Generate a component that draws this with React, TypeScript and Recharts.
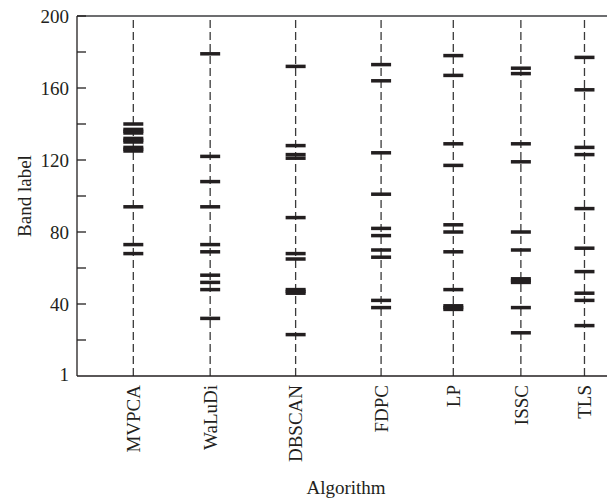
import {
  ReferenceLine,
  Scatter,
  ScatterChart,
  XAxis,
  YAxis,
} from "recharts";

const algorithms = ["MVPCA", "WaLuDi", "DBSCAN", "FDPC", "LP", "ISSC", "TLS"];
// where each algorithm sits along the x axis (0–8 scale)
const algoPos = [0.85, 2.01, 3.3, 4.59, 5.68, 6.7, 7.66];

const mvpcaBands = [140, 137, 136, 135, 132, 131, 130, 127, 126, 125, 94, 73, 68];
const waludiBands = [179, 122, 108, 94, 73, 69, 56, 52, 48, 32];
const dbscanBands = [172, 128, 123, 121, 88, 68, 65, 48, 47, 46, 23];
const fdpcBands = [173, 164, 124, 101, 82, 78, 70, 66, 42, 38];
const lpBands = [178, 167, 129, 117, 84, 80, 69, 48, 39, 38, 37];
const isscBands = [171, 168, 129, 119, 80, 70, 54, 53, 52, 38, 24];
const tlsBands = [177, 159, 127, 123, 93, 71, 58, 46, 42, 28];

const yTicks = [1, 20, 40, 60, 80, 100, 120, 140, 160, 180, 200];
const yLabelled = [1, 40, 80, 120, 160, 200];

const allBands = [mvpcaBands, waludiBands, dbscanBands, fdpcBands, lpBands, isscBands, tlsBands];
const points = allBands.flatMap((bands, i) => bands.map((b) => ({ x: algoPos[i], y: b })));

const INK = "#231f20";
const FONT = "'Liberation Serif', 'DejaVu Serif', serif";
const FS = 19;

function BandMark(props: any) {
  const { cx, cy } = props;
  if (cx == null || cy == null) return null;
  return <rect x={cx - 10} y={cy - 1.75} width={20} height={3.5} fill={INK} />;
}

function YTick(props: any) {
  const { x, y, payload } = props;
  const v = payload.value;
  return (
    <g>
      {v !== 1 && <line x1={x} x2={x + 9} y1={y} y2={y} stroke={INK} strokeWidth={1.3} />}
      {yLabelled.includes(v) && (
        <text x={x - 8} y={y} dy="0.35em" textAnchor="end" fill={INK} fontFamily={FONT} fontSize={FS}>
          {v}
        </text>
      )}
    </g>
  );
}

function XTick(props: any) {
  const { x, y, payload } = props;
  const idx = algoPos.indexOf(payload.value);
  const ty = y + 9;
  return (
    <text
      x={x}
      y={ty}
      dy="0.35em"
      textAnchor="end"
      transform={`rotate(-90 ${x} ${ty})`}
      fill={INK}
      fontFamily={FONT}
      fontSize={FS}
    >
      {algorithms[idx]}
    </text>
  );
}

function yTitle(props: any) {
  const vb = props.viewBox ?? props;
  const cx = vb.x + 24;
  const cy = vb.y + vb.height / 2;
  return (
    <text
      x={cx}
      y={cy}
      dy="0.35em"
      textAnchor="middle"
      transform={`rotate(-90 ${cx} ${cy})`}
      fill={INK}
      fontFamily={FONT}
      fontSize={FS}
    >
      Band label
    </text>
  );
}

function xTitle(props: any) {
  const vb = props.viewBox ?? props;
  return (
    <text
      x={vb.x + vb.width / 2 + 4}
      y={vb.y + 118}
      textAnchor="middle"
      fill={INK}
      fontFamily={FONT}
      fontSize={FS}
    >
      Algorithm
    </text>
  );
}

export default function App() {
  return (
    <div style={{ position: "absolute", left: 0, top: 0, background: "#fff" }}>
      <ScatterChart width={607} height={502} margin={{ top: 16, right: 0, bottom: 0, left: 0 }}>
        <XAxis
          type="number"
          dataKey="x"
          domain={[0, 8]}
          ticks={algoPos}
          interval={0}
          height={126}
          tickSize={0}
          tickMargin={0}
          tickLine={false}
          axisLine={{ stroke: INK, strokeWidth: 1.3 }}
          tick={<XTick />}
          label={xTitle}
        />
        <YAxis
          type="number"
          dataKey="y"
          domain={[0, 200]}
          ticks={yTicks}
          interval={0}
          width={77}
          tickSize={0}
          tickMargin={0}
          tickLine={false}
          axisLine={{ stroke: INK, strokeWidth: 1.3 }}
          tick={<YTick />}
          label={yTitle}
        />
        <ReferenceLine y={200} stroke="#6d6e70" strokeWidth={2} />
        {algoPos.map((p) => (
          <ReferenceLine key={p} x={p} stroke="#3a3a3a" strokeWidth={1.3} strokeDasharray="8 4" />
        ))}
        <Scatter data={points} shape={<BandMark />} isAnimationActive={false} />
      </ScatterChart>
    </div>
  );
}
